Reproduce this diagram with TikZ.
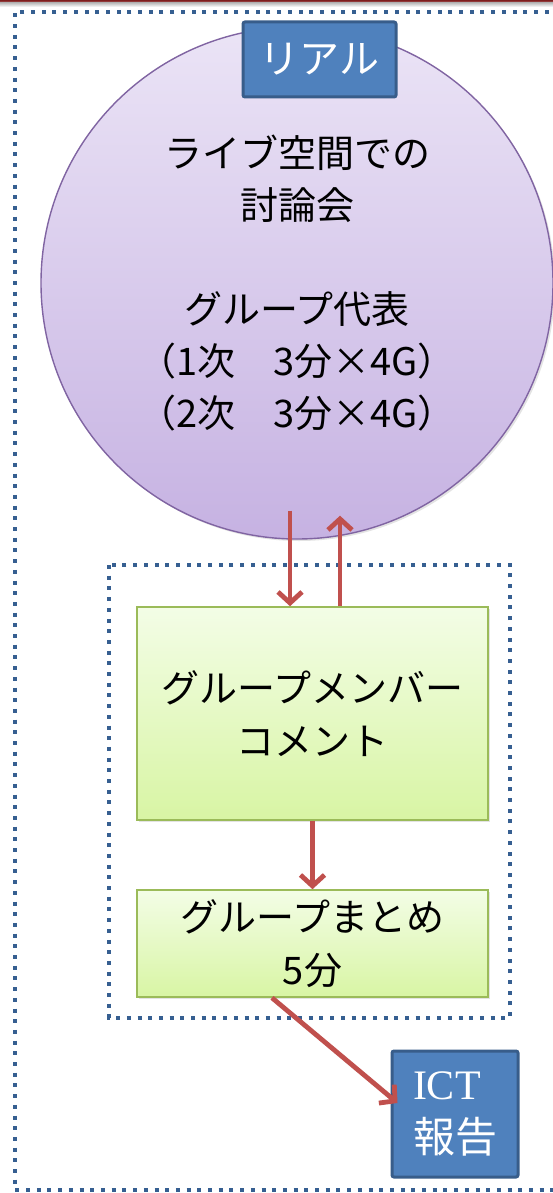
\documentclass[tikz,border=0pt]{standalone}
\usepackage{fontspec}
\setmainfont{Noto Sans CJK JP}
\newfontfamily\icfont{Liberation Serif}
\usetikzlibrary{arrows.meta,calc,shadows}
\definecolor{barRed}{HTML}{7E1E1E}
\definecolor{barRedB}{HTML}{B87070}
\definecolor{dotBlue}{HTML}{365F91}
\definecolor{purTop}{HTML}{EBE4F6}
\definecolor{purBot}{HTML}{C6B2E2}
\definecolor{purLine}{HTML}{8064A2}
\definecolor{grnTop}{HTML}{F3FDE6}
\definecolor{grnBot}{HTML}{D8F5A4}
\definecolor{grnLine}{HTML}{9BBB59}
\definecolor{bluFill}{HTML}{4F81BD}
\definecolor{bluLine}{HTML}{385D8A}
\definecolor{arrRed}{HTML}{C0504D}
\tikzset{
  dotframe/.style={draw=dotBlue, line width=4pt, dash pattern=on 4pt off 6.7pt},
  shad/.style={drop shadow={opacity=0.22, shadow xshift=2pt, shadow yshift=-2pt}},
  greenbox/.style={shad, rectangle, draw=grnLine, line width=1.6pt, top color=grnTop, bottom color=grnBot,
    inner sep=0pt, align=center, font=\fontsize{38pt}{53pt}\selectfont},
  bluebox/.style={rectangle, draw=bluLine, line width=3pt, fill=bluFill, rounded corners=2pt,
    inner sep=0pt, text=white},
  arr/.style={draw=arrRed, line width=4.8pt, -{Straight Barb[length=11pt,width=24pt]}},
}
\begin{document}
\begin{tikzpicture}[x=1pt,y=-1pt]
\useasboundingbox (0,0) rectangle (553,1193);
\clip (0,0) rectangle (553,1193);
\fill[white] (0,0) rectangle (553,1193);
% top bar
\shade[top color=barRed, bottom color=barRedB] (0,0) rectangle (553,3);
\shade[top color=black!25, bottom color=white] (0,3) rectangle (553,7);
% outer dotted frame
\draw[dotframe] (570,12) -- (15,12) -- (15,1190) -- (570,1190);
% circle
\node[shad, circle, minimum size=512pt, inner sep=0pt, draw=purLine, line width=1.4pt,
  top color=purTop, bottom color=purBot, align=center,
  font=\fontsize{38pt}{52pt}\selectfont] (circ) at (297,283)
  {ライブ空間での\\討論会\\[52pt]グループ代表\\（1次　3分×4G）\\（2次　3分×4G）};
% label real
\node[bluebox, minimum width=153pt, minimum height=75pt, font=\fontsize{40pt}{48pt}\selectfont]
  (real) at (319.5,59.5) {リアル};
% inner dotted frame
\draw[dotframe] (109,565) rectangle (510,1018);
% green boxes
\node[greenbox, minimum width=351pt, minimum height=213pt] (box1) at (312.5,713.5)
  {グループメンバー\\コメント};
\node[greenbox, minimum width=351pt, minimum height=107pt] (box2) at (312.5,943.5)
  {グループまとめ\\5分};
% ICT box
\node[bluebox, minimum width=126pt, minimum height=126pt, align=left,
  font=\fontsize{42pt}{53pt}\selectfont] (ict) at (455,1114)
  {{\icfont ICT}\\報告};
% arrows
\draw[arr] ($(circ.south)+(-7,-29)$) -- ($(box1.north)+(-22.5,0)$);
\draw[arr] ($(box1.north)+(27.5,0)$) -- ($(circ.south)+(43,-24)$);
\draw[arr] (box1.south) -- (box2.north);
\draw[arr] ($(box2.south)+(-40.5,0)$) -- ($(ict.west)+(7,-11)$);
\end{tikzpicture}
\end{document}
